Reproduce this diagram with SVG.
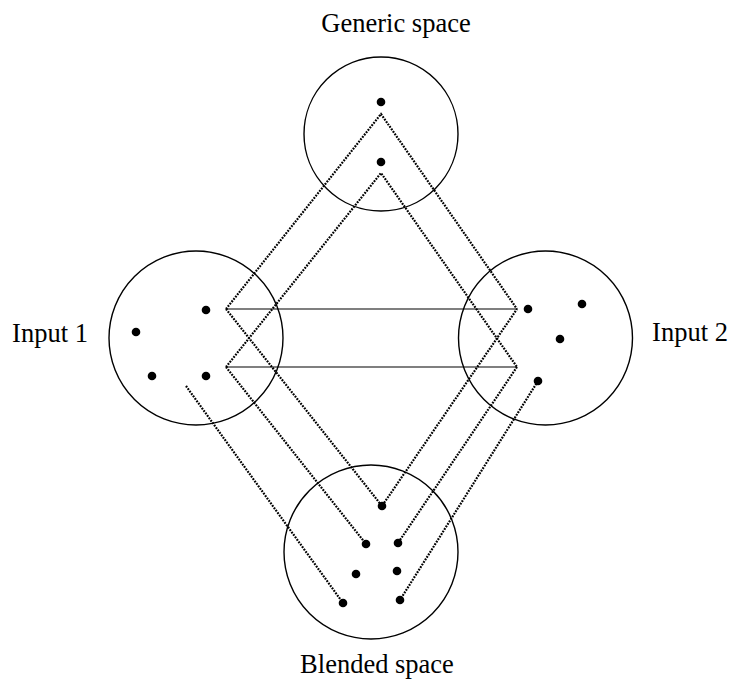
<svg xmlns="http://www.w3.org/2000/svg" width="733" height="682" viewBox="0 0 733 682">
<style>
.space{fill:none;stroke:#000;stroke-width:1.4}
.dot{fill:#000}
.dl{fill:none;stroke:#000;stroke-width:2.2;stroke-dasharray:1.8 1.2}
.sl{fill:none;stroke:#000;stroke-width:1.2}
.lbl{font-family:"Liberation Serif","Times New Roman",serif;font-size:26.5px;fill:#000;text-anchor:middle}
</style>
<rect width="733" height="682" fill="#fff"/>
<g id="connectors">
<polyline class="dl" points="226,309 381,114 517,309"/>
<polyline class="dl" points="226,367 381,173 517,367"/>
<line class="sl" x1="226" y1="309" x2="517" y2="309"/>
<line class="sl" x1="226" y1="367" x2="517" y2="367"/>
<polyline class="dl" points="226,309 382,506 517,309"/>
<line class="dl" x1="226" y1="367" x2="366" y2="544"/>
<line class="dl" x1="517" y1="367" x2="398" y2="543"/>
<line class="dl" x1="186" y1="386" x2="343" y2="603"/>
<line class="dl" x1="538" y1="381" x2="400" y2="600"/>
</g>
<g id="generic">
<circle class="space" cx="381" cy="134" r="77"/>
<circle class="dot" cx="381" cy="102" r="4.3"/>
<circle class="dot" cx="381" cy="162" r="4.3"/>
<text class="lbl" x="396" y="32">Generic space</text>
</g>
<g id="input1">
<circle class="space" cx="196" cy="338" r="87"/>
<circle class="dot" cx="206" cy="310" r="4.3"/>
<circle class="dot" cx="136" cy="332" r="4.3"/>
<circle class="dot" cx="152" cy="376" r="4.3"/>
<circle class="dot" cx="206" cy="376" r="4.3"/>
<text class="lbl" x="50" y="342">Input 1</text>
</g>
<g id="input2">
<circle class="space" cx="545.5" cy="338" r="87"/>
<circle class="dot" cx="528" cy="309" r="4.3"/>
<circle class="dot" cx="582" cy="304" r="4.3"/>
<circle class="dot" cx="560" cy="339" r="4.3"/>
<circle class="dot" cx="538" cy="381" r="4.3"/>
<text class="lbl" x="690" y="341">Input 2</text>
</g>
<g id="blended">
<circle class="space" cx="371" cy="552" r="87"/>
<circle class="dot" cx="382" cy="506" r="4.3"/>
<circle class="dot" cx="366" cy="544" r="4.3"/>
<circle class="dot" cx="398" cy="543" r="4.3"/>
<circle class="dot" cx="356" cy="574" r="4.3"/>
<circle class="dot" cx="397" cy="571" r="4.3"/>
<circle class="dot" cx="343" cy="603" r="4.3"/>
<circle class="dot" cx="400" cy="600" r="4.3"/>
<text class="lbl" x="377" y="673">Blended space</text>
</g>
</svg>
